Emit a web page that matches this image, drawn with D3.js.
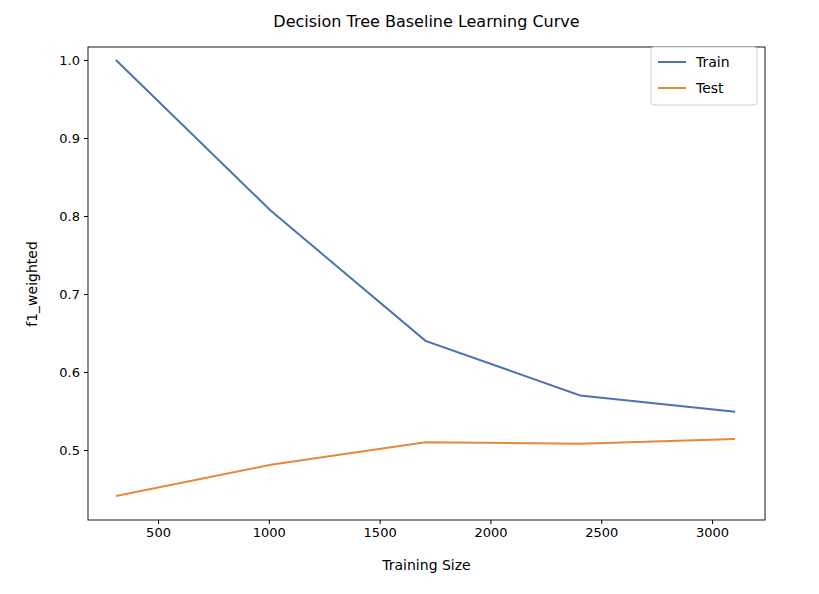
<!DOCTYPE html>
<html><head><meta charset="utf-8">
<script src="https://cdn.jsdelivr.net/npm/d3@7"></script>
<style>body{margin:0;background:#fff}text{font-family:"DejaVu Sans",sans-serif}</style>
</head><body><svg width="819" height="594"></svg>
<script>
const sizes=[310,1008,1707,2405,3104];
const train=[1.0,0.807,0.640,0.570,0.549];
const test=[0.441,0.481,0.510,0.508,0.514];
const xTicks=[500,1000,1500,2000,2500,3000];
const yTicks=[0.5,0.6,0.7,0.8,0.9,1.0];
const svg=d3.select("svg");
const L=88,R=765,T=47,B=520;
const x=d3.scaleLinear().domain([184,3239]).range([L,R]);
const y=d3.scaleLinear().domain([0.4103,1.0167]).range([B,T]);
const gx=svg.append("g").attr("transform",`translate(0,${B})`).call(d3.axisBottom(x).tickValues(xTicks).tickFormat(d3.format("d")).tickSize(4).tickPadding(4));
const gy=svg.append("g").attr("transform",`translate(${L},0)`).call(d3.axisLeft(y).tickValues(yTicks).tickFormat(d3.format(".1f")).tickSize(4).tickPadding(4));
[gx,gy].forEach(g=>{g.select(".domain").remove();g.selectAll("text").attr("font-size",13).attr("fill","#000");g.selectAll("line").attr("stroke","#000");});
svg.append("rect").attr("x",L).attr("y",T).attr("width",R-L).attr("height",B-T).attr("fill","none").attr("stroke","#000").attr("stroke-width",0.9);
const line=d3.line().x((d,i)=>x(sizes[i])).y(d=>y(d));
svg.append("path").datum(train).attr("d",line).attr("fill","none").attr("stroke","#4c72b0").attr("stroke-width",2);
svg.append("path").datum(test).attr("d",line).attr("fill","none").attr("stroke","#e5893b").attr("stroke-width",2);
svg.append("text").attr("x",(L+R)/2).attr("y",27).attr("text-anchor","middle").attr("font-size",16).text("Decision Tree Baseline Learning Curve");
svg.append("text").attr("x",(L+R)/2).attr("y",570).attr("text-anchor","middle").attr("font-size",14).text("Training Size");
svg.append("text").attr("transform","translate(37,284) rotate(-90)").attr("text-anchor","middle").attr("font-size",14).text("f1_weighted");
const lg=svg.append("g").attr("transform","translate(651,47)");
lg.append("rect").attr("x",0).attr("y",0).attr("width",106).attr("height",58).attr("rx",3).attr("fill","#fff").attr("stroke","#ccc");
[["Train","#4c72b0"],["Test","#e5893b"]].forEach((d,i)=>{
 lg.append("line").attr("x1",7).attr("x2",35).attr("y1",15+i*26).attr("y2",15+i*26).attr("stroke",d[1]).attr("stroke-width",2);
 lg.append("text").attr("x",45).attr("y",20+i*26).attr("font-size",14).text(d[0]);
});
</script></body></html>
